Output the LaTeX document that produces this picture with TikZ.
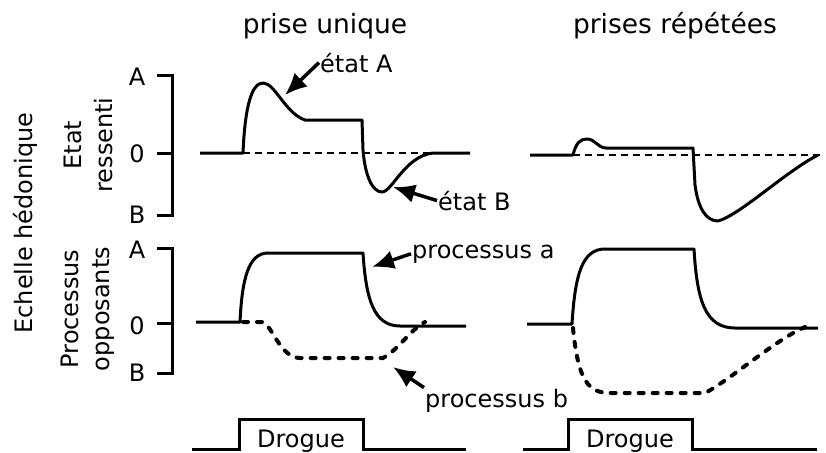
\documentclass[tikz,border=0pt]{standalone}
\usepackage{fontspec}
\setmainfont{DejaVu Sans}
\usetikzlibrary{arrows.meta,positioning}

\begin{document}
\begin{tikzpicture}[x=1pt,y=-1pt,font=\fontsize{24pt}{31pt}\selectfont]
  \tikzstyle{titre} = [anchor=base, inner sep=0pt]
  \tikzstyle{grandtitre} = [anchor=base, inner sep=0pt, font=\fontsize{26.5pt}{31pt}\selectfont]
  \tikzstyle{legende} = [anchor=base west, inner sep=1pt]
  \tikzstyle{niveau} = [inner sep=0pt]
  \tikzstyle{echelle} = [rotate=90, align=center, inner sep=0pt]
  \tikzstyle{axe} = [line width=3pt]
  \tikzstyle{courbe} = [line width=3pt, line join=round]
  \tikzstyle{zero} = [line width=1.7pt, dash pattern=on 7pt off 5pt]
  \tikzstyle{opposant} = [line width=4pt, line cap=round, dash pattern=on 5pt off 9pt]
  \tikzstyle{fleche} = [-{Latex[length=22pt,width=19pt]}, line width=3.5pt]
  \useasboundingbox (0,0) rectangle (826,452);

  \node[grandtitre] at (325,34) (unique) {prise unique};
  \node[grandtitre] at (675,34) (repetees) {prises répétées};
  \node[echelle] at (25,223) (hedo) {Echelle hédonique};
  \node[echelle] at (88,145) (ressenti) {Etat\\ressenti};
  \node[echelle] at (88,309) (opposants) {Processus\\opposants};

  \node[niveau] at (137,77) (A1) {A};
  \node[niveau] at (137,154) (Z1) {0};
  \node[niveau] at (137,215) (B1) {B};
  \node[niveau] at (137,250) (A2) {A};
  \node[niveau] at (137,326) (Z2) {0};
  \node[niveau] at (137,373) (B2) {B};
  \draw[axe] (157,75) -- (172,75) -- (172,215) -- (157,215);
  \draw[axe] (157,153) -- (172,153);
  \draw[axe] (157,248) -- (172,248) -- (172,373) -- (157,373);
  \draw[axe] (157,323) -- (172,323);

  \draw[zero] (243,153) -- (470,153);
  \draw[zero] (573,155) -- (820,155);
  \draw[courbe] (200,153) -- (243,153) .. controls (245,105) and (252,83) .. (263,83)
    .. controls (275,83) and (285,113) .. (305,120) -- (362,120) -- (363,150)
    .. controls (365,175) and (372,192) .. (382,192)
    .. controls (392,192) and (405,156) .. (433,153) -- (470,153);
  \draw[courbe] (530,155) -- (573,155) .. controls (576,143) and (580,139) .. (587,139)
    .. controls (595,139) and (598,148) .. (606,148) -- (693,148) -- (695,185)
    .. controls (698,208) and (706,221) .. (718,221)
    .. controls (740,215) and (785,172) .. (818,155);

  \draw[courbe] (196,322) -- (240,322) .. controls (242,280) and (248,253) .. (268,253)
    -- (363,253) .. controls (366,300) and (374,326) .. (400,326) -- (466,326);
  \draw[opposant] (243,322) -- (262,322) .. controls (272,324) and (280,358) .. (300,358)
    -- (383,358) .. controls (398,350) and (410,330) .. (425,322);
  \draw[courbe] (527,324) -- (572,324) .. controls (575,275) and (582,249) .. (605,249)
    -- (694,249) .. controls (697,300) and (705,328) .. (735,328) -- (818,328);
  \draw[opposant] (573,328) .. controls (578,380) and (588,393) .. (610,393)
    -- (705,393) .. controls (730,380) and (775,340) .. (805,327);

  \node[legende] at (319,72) (etatA) {état A};
  \node[legende] at (437,210) (etatB) {état B};
  \node[legende] at (411,258) (procA) {processus a};
  \node[legende] at (424,407) (procB) {processus b};
  \coordinate (pA) at (285,95);
  \coordinate (pB) at (393,187);
  \coordinate (pa) at (372,267);
  \coordinate (pb) at (393,367);
  \draw[fleche] (etatA.west) -- (pA);
  \draw[fleche] (etatB.west) -- (pB);
  \draw[fleche] (procA.west) -- (pa);
  \draw[fleche] (procB.north west) -- (pb);

  \draw[axe] (192,449) -- (239,449) -- (239,419) -- (363,419) -- (363,449) -- (466,449);
  \draw[axe] (523,449) -- (568,449) -- (568,419) -- (692,419) -- (692,449) -- (817,449);
  \node[titre] at (301,447) (drogue1) {Drogue};
  \node[titre] at (630,447) (drogue2) {Drogue};
\end{tikzpicture}
\end{document}
